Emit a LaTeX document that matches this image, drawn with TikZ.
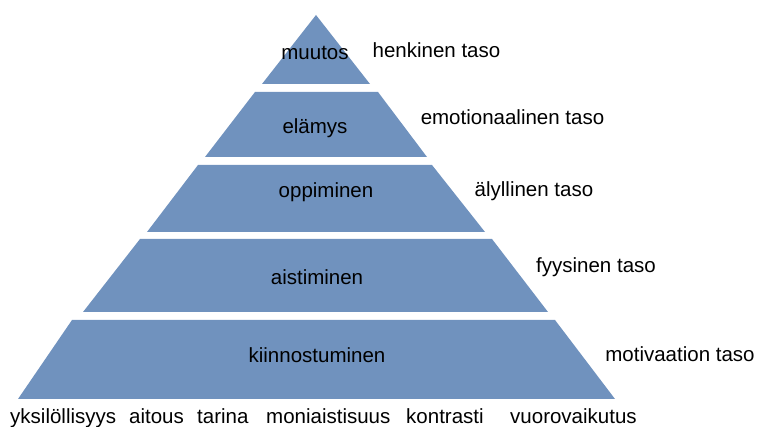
\documentclass[tikz,border=0pt]{standalone}
\usepackage{fontspec}
\setmainfont{Liberation Sans}
\usepackage{xcolor}
\definecolor{pyrblue}{RGB}{112,146,190}

\begin{document}
\begin{tikzpicture}[x=1pt,y=-1pt,
  lbl/.style={font=\fontsize{20.5}{24}\selectfont,inner sep=0pt,anchor=base},
  ala/.style={lbl,anchor=base west},
  kerros/.style={fill=pyrblue}]
\useasboundingbox (0,0) rectangle (758,427);
\fill[kerros] (316,15) -- (370,84) -- (262,84) -- cycle;
\fill[kerros] (255,92) -- (378,92) -- (427,157) -- (205,157) -- cycle;
\fill[kerros] (198,165) -- (432,165) -- (485,232) -- (147,232) -- cycle;
\fill[kerros] (140,239) -- (492,239) -- (548,312) -- (83,312) -- cycle;
\fill[kerros] (72,320) -- (555,320) -- (615,399) -- (18,399) -- cycle;
\node[lbl] (muutos) at (315,60) {muutos};
\node[lbl] (henkinen) at (436.5,58) {henkinen taso};
\node[lbl] (elamys) at (315,134) {elämys};
\node[lbl] (emotio) at (512.5,125) {emotionaalinen taso};
\node[lbl] (oppiminen) at (326,198) {oppiminen};
\node[lbl] (alyllinen) at (534,197) {älyllinen taso};
\node[lbl] (aistiminen) at (317,285) {aistiminen};
\node[lbl] (fyysinen) at (596,273) {fyysinen taso};
\node[lbl] (kiinnostus) at (317,363) {kiinnostuminen};
\node[lbl] (motivaatio) at (680,362) {motivaation taso};
\node[ala] (yksilo) at (10,424) {yksilöllisyys};
\node[ala] (aitous) at (129,424) {aitous};
\node[ala] (tarina) at (197,424) {tarina};
\node[ala] (moniaisti) at (266,424) {moniaistisuus};
\node[ala] (kontrasti) at (406,424) {kontrasti};
\node[ala] (vuoro) at (510,424) {vuorovaikutus};
\end{tikzpicture}
\end{document}
